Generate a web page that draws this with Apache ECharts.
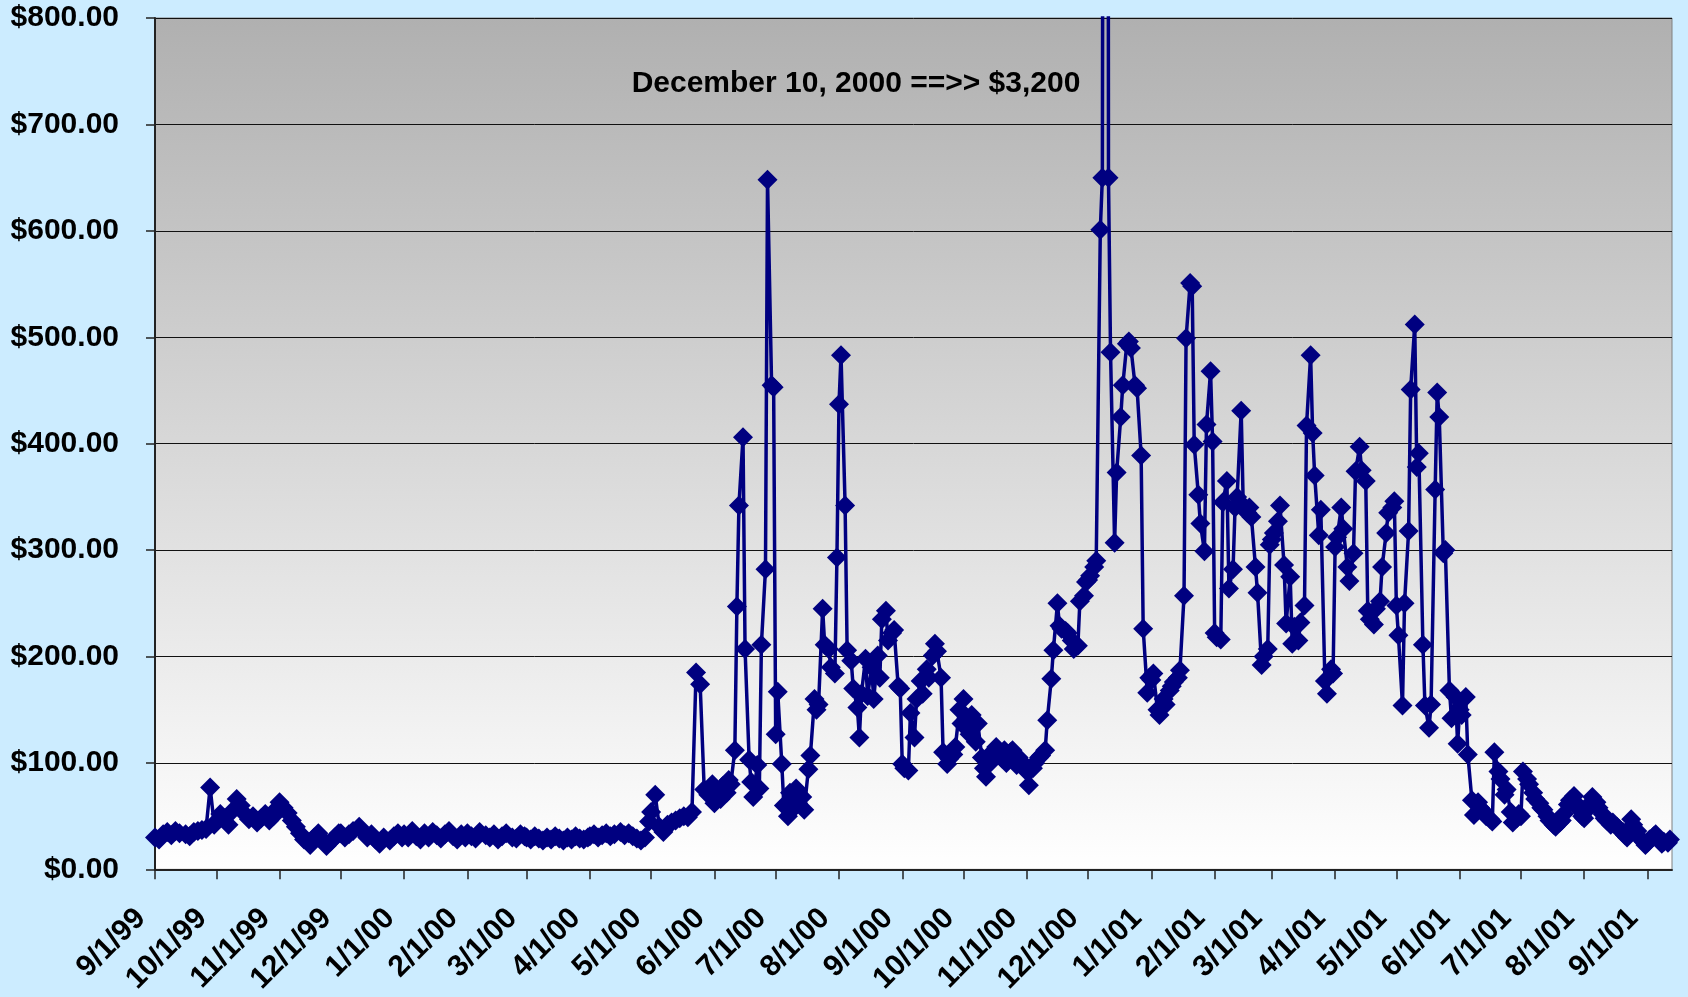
<!DOCTYPE html>
<html>
<head>
<meta charset="utf-8">
<title>Daily price chart</title>
<script src="https://cdn.jsdelivr.net/npm/echarts@6/dist/echarts.min.js"></script>
<style>
  html, body { margin: 0; padding: 0; background: #CCECFF; }
  #chart { width: 1688px; height: 997px; }
</style>
</head>
<body>
<div id="chart"></div>
<script>
  // prices, spread evenly over the days of each month
  const p1999_09 = [30, 28, 33, 35, 32, 36, 34, 33, 31, 35, 36, 37, 38, 77, 42]
  const p1999_10 = [45, 52, 48, 42, 55, 66, 60, 52, 47, 50, 44, 48, 52, 46, 50, 58]
  const p1999_11 = [63, 58, 53, 46, 40, 34, 28, 23, 30, 34, 28, 22, 26, 30, 34]
  const p1999_12 = [34, 30, 33, 36, 40, 35, 30, 33, 28, 24, 30, 27, 31, 34, 30]
  const p2000_01 = [33, 30, 36, 31, 28, 34, 30, 35, 32, 29, 33, 36, 31, 28, 33, 30]
  const p2000_02 = [34, 31, 29, 35, 32, 30, 33, 28, 31, 34, 30, 29, 33, 31]
  const p2000_03 = [30, 28, 31, 29, 27, 30, 28, 31, 29, 27, 30, 28, 31, 29, 28, 30]
  const p2000_04 = [31, 33, 30, 32, 34, 31, 33, 35, 32, 34, 31, 29, 27, 30, 45]
  const p2000_05 = [54, 70, 40, 35, 42, 44, 46, 48, 50, 49, 54, 185, 174, 75, 70, 80]
  const p2000_06 = [62, 70, 66, 78, 72, 84, 80, 112, 247, 342, 406, 207, 103, 82, 68, 98, 76, 211, 282, 648, 455, 453]
  const p2000_07 = [127, 167, 99, 60, 50, 72, 58, 76, 62, 68, 56, 94, 107, 160, 150, 155, 245, 211, 207, 190, 184, 293]
  const p2000_08 = [437, 483, 342, 206, 196, 170, 152, 124, 165, 198, 163, 190, 160, 201, 180, 235, 243, 215, 222, 225, 172, 170]
  const p2000_09 = [99, 95, 93, 147, 124, 160, 177, 165, 188, 180, 201, 212, 205, 180, 110, 99, 104, 108, 115, 150, 137]
  const p2000_10 = [160, 140, 127, 145, 120, 137, 105, 95, 87, 100, 110, 115, 108, 104, 112, 100, 110, 112, 98, 105, 100, 95]
  const p2000_11 = [92, 79, 95, 100, 105, 107, 112, 140, 179, 206, 250, 229, 226, 224, 222, 215, 207, 210, 252, 257, 270]
  const p2000_12 = [272, 276, 284, 290, 601, 650, 3200, 650, 486, 307, 373, 425, 455, 494, 496, 490, 455, 452, 389, 226, 166, 180]
  const p2001_01 = [178, 184, 150, 145, 160, 155, 168, 172, 176, 180, 187, 257, 499, 551, 548, 399, 352, 325, 299, 418, 468, 402]
  const p2001_02 = [222, 218, 216, 345, 365, 264, 282, 340, 350, 431, 342, 335, 340, 331, 284, 260, 192, 200, 207, 305]
  const p2001_03 = [310, 316, 327, 342, 286, 231, 275, 212, 228, 215, 232, 248, 417, 483, 410, 370, 314, 338, 177, 165, 188, 184]
  const p2001_04 = [303, 312, 340, 320, 284, 271, 297, 374, 397, 375, 365, 243, 235, 230, 245, 252, 284, 316, 335, 340, 346]
  const p2001_05 = [248, 220, 154, 250, 318, 451, 512, 378, 391, 211, 154, 133, 155, 357, 448, 425, 297, 300, 168, 142, 162, 118]
  const p2001_06 = [150, 145, 162, 108, 65, 51, 63, 58, 54, 50, 47, 45, 110, 92, 85, 70, 75, 54, 44, 48, 52]
  const p2001_07 = [50, 92, 85, 80, 72, 66, 62, 58, 56, 50, 46, 42, 40, 44, 46, 52, 61, 65, 69, 62, 55, 50]
  const p2001_08 = [48, 55, 62, 68, 63, 58, 52, 48, 46, 42, 44, 40, 38, 35, 32, 30, 47, 42, 36, 30, 26, 23]
  const p2001_09 = [25, 28, 31, 33, 28, 24, 26, 25, 28]

  const months = [
    [1999, 9, p1999_09], [1999, 10, p1999_10], [1999, 11, p1999_11], [1999, 12, p1999_12],
    [2000, 1, p2000_01], [2000, 2, p2000_02], [2000, 3, p2000_03], [2000, 4, p2000_04],
    [2000, 5, p2000_05], [2000, 6, p2000_06], [2000, 7, p2000_07], [2000, 8, p2000_08],
    [2000, 9, p2000_09], [2000, 10, p2000_10], [2000, 11, p2000_11], [2000, 12, p2000_12],
    [2001, 1, p2001_01], [2001, 2, p2001_02], [2001, 3, p2001_03], [2001, 4, p2001_04],
    [2001, 5, p2001_05], [2001, 6, p2001_06], [2001, 7, p2001_07], [2001, 8, p2001_08],
    [2001, 9, p2001_09]
  ]

  const yTicks = [0, 100, 200, 300, 400, 500, 600, 700, 800]
  const note = 'December 10, 2000 ==>> $3,200'

  const DAY = 86400000
  const axisStart = Date.UTC(1999, 8, 1)
  const axisEnd = Date.UTC(2001, 8, 13)
  const lastData = Date.UTC(2001, 8, 12)

  // one category per calendar day
  const days = []
  for (let t = axisStart; t <= axisEnd; t += DAY) {
    const d = new Date(t)
    days.push((d.getUTCMonth() + 1) + '/' + d.getUTCDate() + '/' + String(d.getUTCFullYear()).slice(2))
  }

  const values = new Array(days.length).fill(null)
  months.forEach(([y, m, list]) => {
    const first = Date.UTC(y, m - 1, 1)
    const last = Math.min(Date.UTC(y, m, 0), lastData)
    const start = Math.round((first - axisStart) / DAY)
    const span = Math.round((last - first) / DAY)
    list.forEach((v, k) => {
      values[start + Math.round(k * span / (list.length - 1))] = v
    })
  })

  const isMonthStart = (i, label) => label.split('/')[1] === '1'
  const font = {fontFamily: 'Liberation Sans, Arial, sans-serif', fontWeight: 'bold', fontSize: 30, color: '#000'}

  const chart = echarts.init(document.getElementById('chart'))
  chart.setOption({
    animation: false,
    backgroundColor: '#CCECFF',
    grid: {
      left: 155,
      right: 16,
      top: 18,
      bottom: 124,
      show: true,
      borderColor: '#808080',
      borderWidth: 1,
      backgroundColor: {
        type: 'linear', x: 0, y: 0, x2: 0, y2: 1,
        colorStops: [{offset: 0, color: '#B0B0B0'}, {offset: 1, color: '#FFFFFF'}]
      }
    },
    xAxis: {
      type: 'category',
      data: days,
      boundaryGap: false,
      axisLine: {lineStyle: {color: '#222', width: 2}},
      axisTick: {interval: isMonthStart, length: 10, lineStyle: {color: '#222', width: 1.5}},
      axisLabel: Object.assign({interval: isMonthStart, rotate: 45, margin: 30, padding: [0, 20, 0, 0]}, font),
      splitLine: {show: false}
    },
    yAxis: {
      type: 'value',
      min: yTicks[0],
      max: yTicks[yTicks.length - 1],
      interval: 100,
      axisLine: {show: true, lineStyle: {color: '#222', width: 2}},
      axisTick: {show: true, length: 9, lineStyle: {color: '#222', width: 1.5}},
      axisLabel: Object.assign({margin: 36, formatter: v => '$' + v.toFixed(2)}, font),
      splitLine: {lineStyle: {color: '#111', width: 1}}
    },
    graphic: [{
      type: 'text',
      x: 856,
      y: 84,
      style: {
        text: note,
        font: 'bold 30px Liberation Sans, Arial, sans-serif',
        fill: '#000',
        align: 'center',
        verticalAlign: 'middle'
      }
    }],
    series: [{
      type: 'line',
      data: values,
      connectNulls: true,
      showAllSymbol: true,
      symbol: 'diamond',
      symbolSize: 20,
      clip: true,
      itemStyle: {color: '#000080'},
      lineStyle: {color: '#000080', width: 3.5}
    }]
  })
</script>
</body>
</html>
